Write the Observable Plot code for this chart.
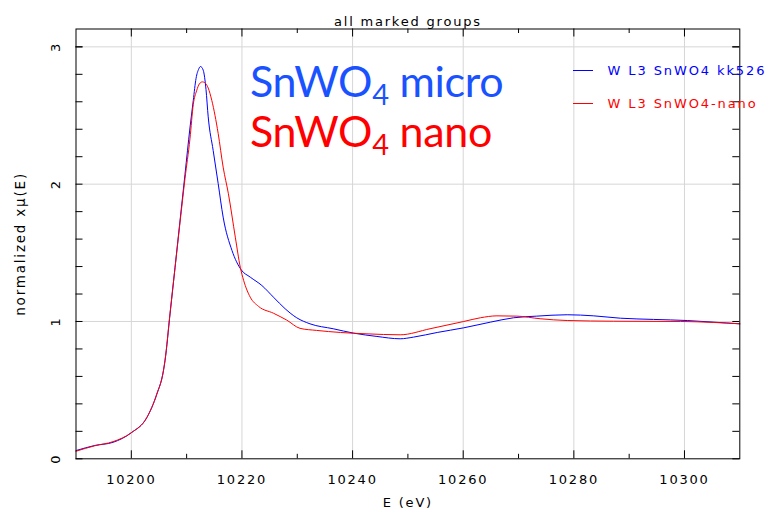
<!DOCTYPE html>
<html>
<head>
<meta charset="utf-8">
<script src="https://cdn.jsdelivr.net/npm/d3@7"></script>
<script src="https://cdn.jsdelivr.net/npm/@observablehq/plot@0.6"></script>
<style>
  html, body { margin: 0; padding: 0; background: #fff; }
</style>
</head>
<body>
<div id="chart"></div>
<script>
// ---------- data ----------
const title = "all marked groups";
const xLabel = "E (eV)";
const yLabel = "normalized xμ(E)";

const microE = [10190, 10193.4, 10196.7, 10200, 10202.8, 10204.6, 10205.8, 10206.1, 10207.0, 10207.9,
  10208.8, 10209.7, 10210.6, 10211.2, 10211.7, 10212.2, 10212.5, 10213.0, 10213.5, 10213.9,
  10214.8, 10215.7, 10216.6, 10218.2, 10219.85, 10221.5, 10223.6, 10225.7, 10227.8, 10229.9,
  10232.3, 10236.5, 10240.2, 10244.4, 10248.6, 10251.0, 10255.3, 10260.1, 10264.9, 10269.1,
  10273.3, 10278.8, 10283.6, 10288.4, 10294.4, 10300.5, 10305.3, 10310];
const microMu = [0.06, 0.097, 0.12, 0.19, 0.30, 0.47, 0.64, 0.716, 1.055, 1.393,
  1.732, 2.071, 2.409, 2.61, 2.77, 2.84, 2.857, 2.83, 2.69, 2.49,
  2.245, 2.005, 1.76, 1.517, 1.377, 1.323, 1.262, 1.177, 1.093, 1.027,
  0.983, 0.947, 0.915, 0.891, 0.874, 0.886, 0.92, 0.954, 0.995, 1.027,
  1.039, 1.049, 1.041, 1.024, 1.015, 1.007, 0.995, 0.983];

const nanoE = [10190, 10193.4, 10196.7, 10200, 10202.8, 10204.6, 10205.8, 10206.1, 10207.0, 10207.9,
  10208.8, 10209.7, 10210.6, 10211.2, 10211.8, 10212.3, 10212.85, 10213.5, 10213.9, 10214.55,
  10215.7, 10216.6, 10217.55, 10218.8, 10219.7, 10220.3, 10221.5, 10223.0, 10225.7, 10228.1,
  10230.5, 10233.5, 10237.8, 10242.6, 10248.6, 10254.0, 10260.1, 10263.1, 10266.1, 10269.7,
  10273.9, 10278.8, 10287.2, 10299.3, 10305.3, 10310];
const nanoMu = [0.055, 0.095, 0.125, 0.19, 0.30, 0.47, 0.64, 0.72, 1.06, 1.39,
  1.72, 2.04, 2.33, 2.58, 2.68, 2.73, 2.745, 2.73, 2.70, 2.61,
  2.37, 2.124, 1.93, 1.614, 1.395, 1.30, 1.177, 1.11, 1.06, 1.01,
  0.95, 0.935, 0.92, 0.91, 0.903, 0.947, 1.0, 1.027, 1.041, 1.039,
  1.02, 1.007, 1.002, 1.0, 0.993, 0.983];

const xMajor = [10200, 10220, 10240, 10260, 10280, 10300];
const xMinor = [10210, 10230, 10250, 10270, 10290];
const yMajor = [0, 1, 2, 3];
const yMinor = [0.2, 0.4, 0.6, 0.8, 1.2, 1.4, 1.6, 1.8, 2.2, 2.4, 2.6, 2.8, 3.0];

const legendLabels = ["W L3 SnWO4 kk526", "W L3 SnWO4-nano"];
const seriesColors = ["#0000ff", "#ff0000"];
const noteNames = ["micro", "nano"];
const noteColors = ["#1a52ff", "#ff0000"];

const micro = microE.map((e, i) => ({E: e, mu: microMu[i]}));
const nano = nanoE.map((e, i) => ({E: e, mu: nanoMu[i]}));

// ---------- layout ----------
const W = 770, H = 516;
const mL = 75.5, mR = 30.7, mT = 28.5, mB = 57.7;
const innerW = W - mL - mR, innerH = H - mT - mB;
const hershey = "DejaVu Sans";

function overlay() {
  const g = d3.create("svg:g").attr("text-anchor", "start");
  // legend
  legendLabels.forEach((lab, i) => {
    const y = 70.5 + i * 33;
    g.append("line").attr("x1", 573).attr("x2", 593).attr("y1", y).attr("y2", y)
      .attr("stroke", seriesColors[i]).attr("stroke-width", 1);
    g.append("text").attr("x", 607.5).attr("y", y + 4.8)
      .attr("fill", seriesColors[i]).attr("font-family", hershey).attr("font-size", 13)
      .attr("letter-spacing", "1.9px").text(lab);
  });
  // annotations
  noteNames.forEach((nm, i) => {
    const t = g.append("text").attr("x", 250).attr("y", 96.7 + i * 50)
      .attr("fill", noteColors[i]).attr("font-family", "Lato").attr("font-size", 43)
      .attr("letter-spacing", "-0.3px");
    t.append("tspan").text("SnWO");
    t.append("tspan").attr("font-size", 29).attr("dy", 8).text("4");
    t.append("tspan").attr("dy", -8).text(" " + nm);
  });
  return g.node();
}

const hs = {fontFamily: hershey, fontSize: 13, textAnchor: "middle"};

const chart = Plot.plot({
  width: W, height: H,
  marginLeft: mL, marginRight: mR, marginTop: mT, marginBottom: mB,
  style: {background: "#fff", fontFamily: hershey, fontSize: "13px", letterSpacing: "1.8px"},
  x: {domain: [10190, 10310], axis: null},
  y: {domain: [0, 3.13], axis: null},
  marks: [
    Plot.ruleX(xMajor, {x: d => d, stroke: "#d6d6d6"}),
    Plot.ruleY([1, 2, 3], {y: d => d, stroke: "#d6d6d6"}),
    Plot.line(micro, {x: "E", y: "mu", stroke: seriesColors[0], strokeWidth: 1, curve: "monotone-x"}),
    Plot.line(nano, {x: "E", y: "mu", stroke: seriesColors[1], strokeWidth: 1, curve: "monotone-x"}),
    // ticks (inward)
    Plot.ruleX(xMajor, {x: d => d, insetTop: innerH - 8, stroke: "#000"}),
    Plot.ruleX(xMajor, {x: d => d, insetBottom: innerH - 8, stroke: "#000"}),
    Plot.ruleX(xMinor, {x: d => d, insetTop: innerH - 4.5, stroke: "#000"}),
    Plot.ruleX(xMinor, {x: d => d, insetBottom: innerH - 4.5, stroke: "#000"}),
    Plot.ruleY(yMajor.concat(yMinor), {y: d => d, insetRight: innerW - 7, stroke: "#000"}),
    Plot.ruleY(yMajor.concat(yMinor), {y: d => d, insetLeft: innerW - 7, stroke: "#000"}),
    Plot.frame({stroke: "#000"}),
    // tick labels
    Plot.text(xMajor, {x: d => d, text: d => String(d), frameAnchor: "bottom", dy: 25.5, ...hs}),
    Plot.text(yMajor, {y: d => d, text: d => String(d), frameAnchor: "left", dx: -20, rotate: -90, ...hs}),
    // titles
    Plot.text([title], {text: d => d, frameAnchor: "top", dy: -12, ...hs}),
    Plot.text([xLabel], {text: d => d, frameAnchor: "bottom", dy: 48.5, ...hs}),
    Plot.text([yLabel], {text: d => d, frameAnchor: "left", dx: -55, rotate: -90, ...hs, fontSize: 13.5, letterSpacing: 3}),
    overlay
  ]
});

document.getElementById("chart").appendChild(chart);
</script>
</body>
</html>
